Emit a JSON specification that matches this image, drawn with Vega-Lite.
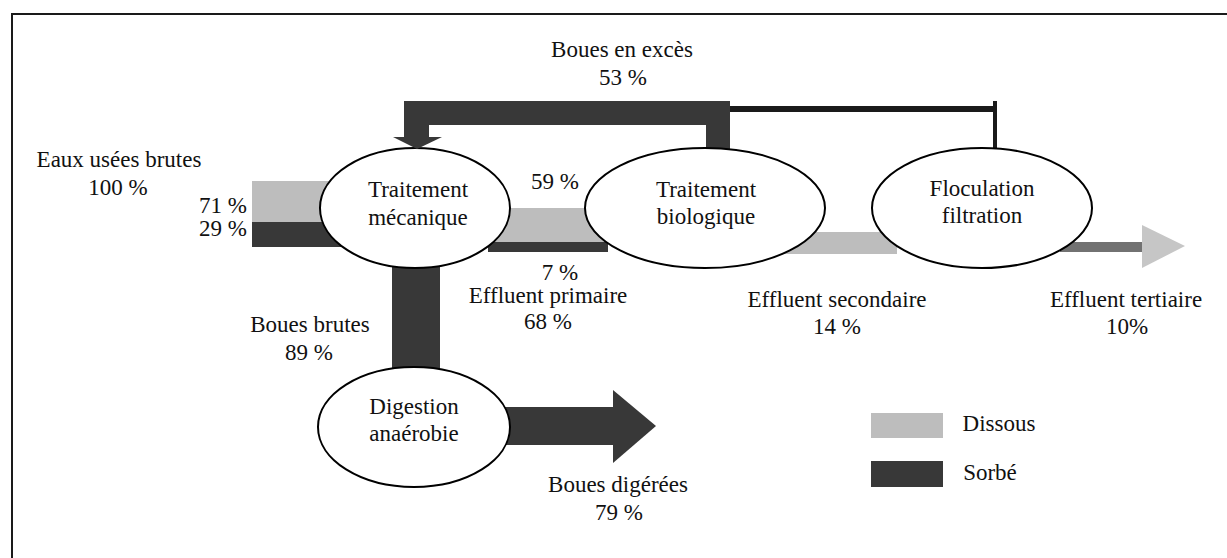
{
  "$schema": "https://vega.github.io/schema/vega-lite/v6.json",
  "width": 1227,
  "height": 558,
  "autosize": {"type": "fit", "contains": "padding"},
  "padding": 0,
  "background": "white",
  "config": {"view": {"stroke": null}},
  "datasets": {
    "bands": [
      {"x": 404, "x2": 730, "y": 101, "y2": 125, "kind": "sorbe"},
      {"x": 404, "x2": 429, "y": 101, "y2": 140, "kind": "sorbe"},
      {"x": 706, "x2": 730, "y": 101, "y2": 152, "kind": "sorbe"},
      {"x": 730, "x2": 995, "y": 106, "y2": 112, "kind": "trait"},
      {"x": 993, "x2": 997, "y": 101, "y2": 152, "kind": "trait"},
      {"x": 252, "x2": 345, "y": 181, "y2": 222, "kind": "dissous"},
      {"x": 252, "x2": 345, "y": 222, "y2": 247, "kind": "sorbe"},
      {"x": 495, "x2": 610, "y": 208, "y2": 242, "kind": "dissous"},
      {"x": 488, "x2": 608, "y": 242, "y2": 252, "kind": "sorbe"},
      {"x": 392, "x2": 440, "y": 262, "y2": 372, "kind": "sorbe"},
      {"x": 500, "x2": 614, "y": 407, "y2": 445, "kind": "sorbe"},
      {"x": 775, "x2": 897, "y": 232, "y2": 254, "kind": "dissous"},
      {"x": 1060, "x2": 1143, "y": 242, "y2": 252, "kind": "tertiaire"},
      {"x": 871, "x2": 943, "y": 413, "y2": 438, "kind": "dissous"},
      {"x": 871, "x2": 943, "y": 461, "y2": 487, "kind": "sorbe"},
      {"x": 11, "x2": 13, "y": 13, "y2": 558, "kind": "trait"},
      {"x": 11, "x2": 1227, "y": 13, "y2": 15, "kind": "trait"}
    ],
    "heads": [
      {"id": "a", "x": 393, "y": 137, "y2": 137, "kind": "sorbe"},
      {"id": "a", "x": 417, "y": 137, "y2": 149, "kind": "sorbe"},
      {"id": "a", "x": 442, "y": 137, "y2": 137, "kind": "sorbe"},
      {"id": "b", "x": 613, "y": 390, "y2": 463, "kind": "sorbe"},
      {"id": "b", "x": 656, "y": 426, "y2": 426, "kind": "sorbe"},
      {"id": "c", "x": 1142, "y": 225, "y2": 268, "kind": "pointe"},
      {"id": "c", "x": 1185, "y": 246, "y2": 246, "kind": "pointe"}
    ],
    "nodes": [
      {"node": "mec", "x": 415, "y": 208},
      {"node": "bio", "x": 705, "y": 208},
      {"node": "floc", "x": 982, "y": 208},
      {"node": "dig", "x": 414, "y": 427}
    ],
    "labels": [
      {"t": "Boues en excès", "x": 622, "y": 50},
      {"t": "53 %", "x": 623, "y": 78},
      {"t": "Eaux usées brutes", "x": 119, "y": 160},
      {"t": "100 %", "x": 118, "y": 188},
      {"t": "71 %", "x": 223, "y": 206},
      {"t": "29 %", "x": 223, "y": 229},
      {"t": "Traitement", "x": 418, "y": 190},
      {"t": "mécanique", "x": 418, "y": 218},
      {"t": "59 %", "x": 555, "y": 182},
      {"t": "Traitement", "x": 706, "y": 190},
      {"t": "biologique", "x": 706, "y": 217},
      {"t": "Floculation", "x": 982, "y": 189},
      {"t": "filtration", "x": 982, "y": 216},
      {"t": "7 %", "x": 560, "y": 273},
      {"t": "Effluent primaire", "x": 548, "y": 296},
      {"t": "68 %", "x": 548, "y": 322},
      {"t": "Boues brutes", "x": 310, "y": 325},
      {"t": "89 %", "x": 309, "y": 353},
      {"t": "Digestion", "x": 414, "y": 407},
      {"t": "anaérobie", "x": 414, "y": 434},
      {"t": "Effluent  secondaire", "x": 837, "y": 300},
      {"t": "14 %", "x": 837, "y": 327},
      {"t": "Effluent tertiaire", "x": 1126, "y": 300},
      {"t": "10%", "x": 1127, "y": 327},
      {"t": "Boues digérées", "x": 618, "y": 485},
      {"t": "79 %", "x": 619, "y": 513},
      {"t": "Dissous", "x": 999, "y": 424},
      {"t": "Sorbé", "x": 990, "y": 473}
    ]
  },
  "layer": [
    {
      "data": {"name": "bands"},
      "mark": {"type": "rect"},
      "encoding": {
        "x": {"field": "x", "type": "quantitative", "scale": {"domain": [0, 1227], "nice": false, "zero": false}, "axis": null},
        "x2": {"field": "x2"},
        "y": {"field": "y", "type": "quantitative", "scale": {"domain": [0, 558], "nice": false, "zero": false, "reverse": true}, "axis": null},
        "y2": {"field": "y2"},
        "fill": {"field": "kind", "type": "nominal", "scale": {"domain": ["dissous", "sorbe", "tertiaire", "pointe", "trait"], "range": ["#bdbdbd", "#383838", "#727272", "#c6c6c6", "#1a1a1a"]}, "legend": null}
      }
    },
    {
      "data": {"name": "nodes"},
      "mark": {"type": "point", "filled": true, "fill": "white", "stroke": "black", "strokeWidth": 2, "size": 57600, "opacity": 1},
      "encoding": {
        "x": {"field": "x", "type": "quantitative"},
        "y": {"field": "y", "type": "quantitative"},
        "shape": {
          "field": "node",
          "type": "nominal",
          "scale": {
            "domain": ["mec", "bio", "floc", "dig"],
            "range": [
              "M-0.7917,0C-0.7917,-0.2761,-0.4373,-0.5,0,-0.5C0.4373,-0.5,0.7917,-0.2761,0.7917,0C0.7917,0.2761,0.4373,0.5,0,0.5C-0.4373,0.5,-0.7917,0.2761,-0.7917,0Z",
              "M-1,0C-1,-0.2761,-0.5523,-0.5,0,-0.5C0.5523,-0.5,1,-0.2761,1,0C1,0.2761,0.5523,0.5,0,0.5C-0.5523,0.5,-1,0.2761,-1,0Z",
              "M-0.9167,0C-0.9167,-0.2761,-0.5063,-0.5,0,-0.5C0.5063,-0.5,0.9167,-0.2761,0.9167,0C0.9167,0.2761,0.5063,0.5,0,0.5C-0.5063,0.5,-0.9167,0.2761,-0.9167,0Z",
              "M-0.8,0C-0.8,-0.2761,-0.4418,-0.5,0,-0.5C0.4418,-0.5,0.8,-0.2761,0.8,0C0.8,0.2761,0.4418,0.5,0,0.5C-0.4418,0.5,-0.8,0.2761,-0.8,0Z"
            ]
          },
          "legend": null
        }
      }
    },
    {
      "data": {"name": "heads"},
      "mark": {"type": "area", "orient": "vertical"},
      "encoding": {
        "x": {"field": "x", "type": "quantitative"},
        "y": {"field": "y", "type": "quantitative", "stack": null},
        "y2": {"field": "y2"},
        "detail": {"field": "id", "type": "nominal"},
        "fill": {"field": "kind", "type": "nominal", "scale": {"domain": ["dissous", "sorbe", "tertiaire", "pointe", "trait"], "range": ["#bdbdbd", "#383838", "#727272", "#c6c6c6", "#1a1a1a"]}, "legend": null}
      }
    },
    {
      "data": {"name": "labels"},
      "mark": {"type": "text", "font": "Liberation Serif", "fontSize": 23, "align": "center", "baseline": "middle", "color": "#111111"},
      "encoding": {
        "x": {"field": "x", "type": "quantitative"},
        "y": {"field": "y", "type": "quantitative"},
        "text": {"field": "t", "type": "nominal"}
      }
    }
  ]
}
